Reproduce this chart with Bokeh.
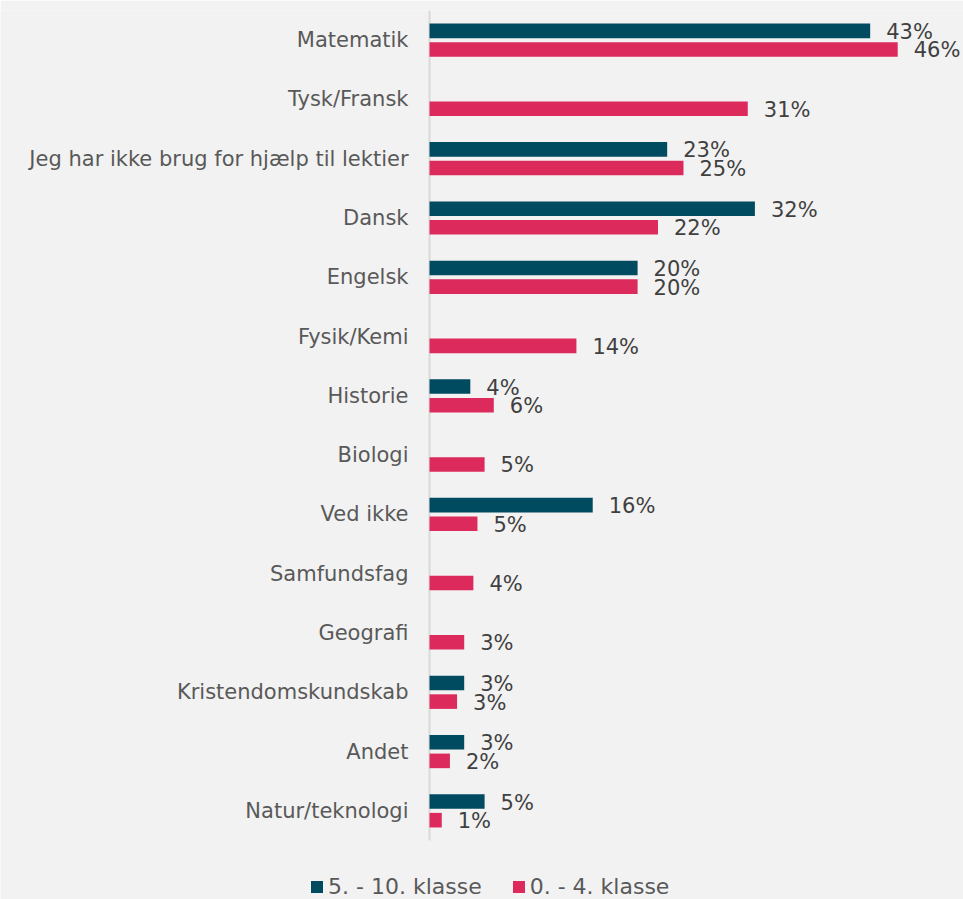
from bokeh.plotting import figure
from bokeh.models import ColumnDataSource, Range1d, Legend, LegendItem, FixedTicker
from bokeh.transform import dodge
from bokeh.core.properties import value
from bokeh.embed import file_html
from bokeh.resources import INLINE

categories = ["Matematik", "Tysk/Fransk", "Jeg har ikke brug for hjælp til lektier", "Dansk",
              "Engelsk", "Fysik/Kemi", "Historie", "Biologi", "Ved ikke", "Samfundsfag",
              "Geografi", "Kristendomskundskab", "Andet", "Natur/teknologi"]
series_names = ["5. - 10. klasse", "0. - 4. klasse"]
upper = [43.2, 0, 23.3, 31.9, 20.4, 0, 4.0, 0, 16.0, 0, 0, 3.4, 3.4, 5.4]
lower = [45.9, 31.2, 24.9, 22.4, 20.4, 14.4, 6.3, 5.4, 4.7, 4.3, 3.4, 2.7, 2.0, 1.2]

DARK = "#004b5f"
RED = "#dd2a5c"
BG = "#f2f2f2"
FONT = "DejaVu Sans"

n = len(categories)
pos = [n - 1 - i for i in range(n)]  # first category at the top

p = figure(width=963, height=899, output_backend="svg", toolbar_location=None,
           x_range=Range1d(-42.06, 52.35), y_range=Range1d(-1.495, n - 0.5))
p.min_border_left = 0
p.min_border_right = 0
p.min_border_top = 10
p.min_border_bottom = 0
p.background_fill_color = BG
p.border_fill_color = BG
p.outline_line_color = None
p.grid.visible = False
p.xaxis.visible = False

def src(vals):
    ys = [y for y, v in zip(pos, vals) if v > 0]
    vs = [v for v in vals if v > 0]
    labels = [f"{round(v)}%" for v in vs]
    return ColumnDataSource(dict(y=ys, val=vs, lab=labels))

s_up = src(upper)
s_lo = src(lower)

# category axis line (only over the category area)
p.segment(x0=[0], y0=[-0.5], x1=[0], y1=[n - 0.5], line_color="#d9d9d9", line_width=2)

OFF = 0.157
H = 0.246
r1 = p.hbar(y=dodge("y", OFF), right="val", left=0, height=H, source=s_up,
            fill_color=DARK, line_color=None)
r2 = p.hbar(y=dodge("y", -OFF), right="val", left=0, height=H, source=s_lo,
            fill_color=RED, line_color=None)

for s, o in ((s_up, OFF), (s_lo, -OFF)):
    p.text(x="val", y=dodge("y", o), text="lab", source=s,
           x_offset=16, y_offset=1, text_baseline="middle", text_align="left",
           text_font=value(FONT), text_font_size="21px", text_color="#404040")

ya = p.yaxis[0]
ya.fixed_location = 0
ya.ticker = FixedTicker(ticks=pos)
ya.major_label_overrides = {y: c for y, c in zip(pos, categories)}
ya.axis_line_color = None
ya.major_tick_line_color = None
ya.minor_tick_line_color = None
ya.major_label_standoff = 15
ya.major_label_text_font = FONT
ya.major_label_text_font_size = "21px"
ya.major_label_text_color = "#595959"

lg = Legend(items=[LegendItem(label=series_names[0], renderers=[r1]),
                   LegendItem(label=series_names[1], renderers=[r2])],
            location=(309, 0), orientation="horizontal")
lg.background_fill_alpha = 0
lg.border_line_color = None
lg.padding = 0
lg.margin = 0
lg.spacing = 29
lg.glyph_width = 15
lg.glyph_height = 15
lg.label_standoff = 4
lg.label_text_font = FONT
lg.label_text_font_size = "22px"
lg.label_text_color = "#595959"
p.add_layout(lg, "center")

open("out.html", "w").write(file_html(p, INLINE))
